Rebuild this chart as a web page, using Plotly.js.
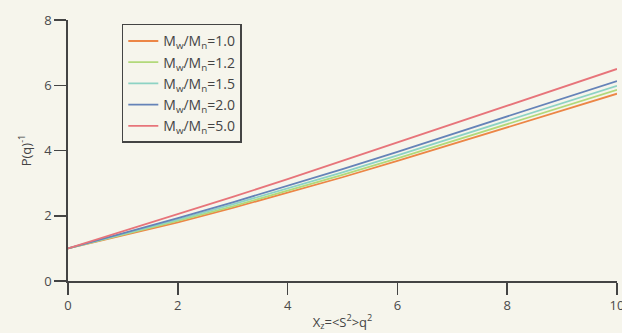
<!DOCTYPE html>
<html><head><meta charset="utf-8">
<script src="https://cdn.plot.ly/plotly-3.0.1.min.js"></script>
<style>html,body{margin:0;padding:0;background:#f6f5ec;}</style>
</head><body>
<div id="chart" style="width:622px;height:333px;"></div>
<script>
const xValues = [0,1,2,3,4,5,6,7,8,9,10];
const seriesNames = ["M<sub>w</sub>/M<sub>n</sub>=1.0","M<sub>w</sub>/M<sub>n</sub>=1.2","M<sub>w</sub>/M<sub>n</sub>=1.5","M<sub>w</sub>/M<sub>n</sub>=2.0","M<sub>w</sub>/M<sub>n</sub>=5.0"];
const pd10 = [1.00,1.39,1.80,2.24,2.70,3.18,3.68,4.19,4.70,5.22,5.74];
const pd12 = [1.00,1.41,1.84,2.29,2.76,3.25,3.76,4.28,4.80,5.33,5.86];
const pd15 = [1.00,1.43,1.88,2.35,2.83,3.33,3.85,4.38,4.91,5.44,5.98];
const pd20 = [1.00,1.46,1.93,2.41,2.91,3.43,3.96,4.50,5.04,5.58,6.13];
const pd50 = [1.00,1.52,2.05,2.58,3.12,3.68,4.24,4.80,5.37,5.93,6.50];
const xTicks = [0,2,4,6,8,10];
const yTicks = [0,2,4,6,8];

const series = [pd10,pd12,pd15,pd20,pd50];
const colors = ["#ec8646","#b2d97a","#8dd3c4","#6583b8","#e7747a"];
const traces = series.map((ys,i)=>({
  x: xValues, y: ys, type:'scatter', mode:'lines', name: seriesNames[i],
  line:{color:colors[i], width:1.8}
}));

const fam = '"Open Sans", "DejaVu Sans", sans-serif';
const layout = {
  width:622, height:333,
  paper_bgcolor:'#f6f5ec', plot_bgcolor:'#f6f5ec',
  margin:{l:68, r:5, t:20, b:52},
  font: {family:fam, color:'#444', size:13},
  showlegend:true,
  legend:{x:0.098, y:0.985, xanchor:'left', yanchor:'top',
    bgcolor:'rgba(0,0,0,0)', bordercolor:'#444', borderwidth:1.5,
    font:{family:fam, size:14, color:'#444'}},
  xaxis:{range:[0,10], tickvals:xTicks, ticks:'outside', ticklen:12, tickwidth:1.5, tickcolor:'#444',
    showline:true, linecolor:'#444', linewidth:1.8, showgrid:false, zeroline:false,
    ticklabeloverflow:'allow',
    tickfont:{size:13, color:'#4a4a4a'},
    title:{text:'X<sub>z</sub>=<S<sup>2</sup>>q<sup>2</sup>', standoff:4, font:{size:13, color:'#444'}}},
  yaxis:{range:[0,8], tickvals:yTicks, ticks:'outside', ticklen:12, tickwidth:1.5, tickcolor:'#444',
    showline:true, linecolor:'#444', linewidth:1.8, showgrid:false, zeroline:false,
    tickfont:{size:13, color:'#4a4a4a'},
    title:{text:'P(q)<sup>-1</sup>', standoff:10, font:{size:13, color:'#444'}}}
};
Plotly.newPlot('chart', traces, layout, {displayModeBar:false, staticPlot:true});
</script>
</body></html>
